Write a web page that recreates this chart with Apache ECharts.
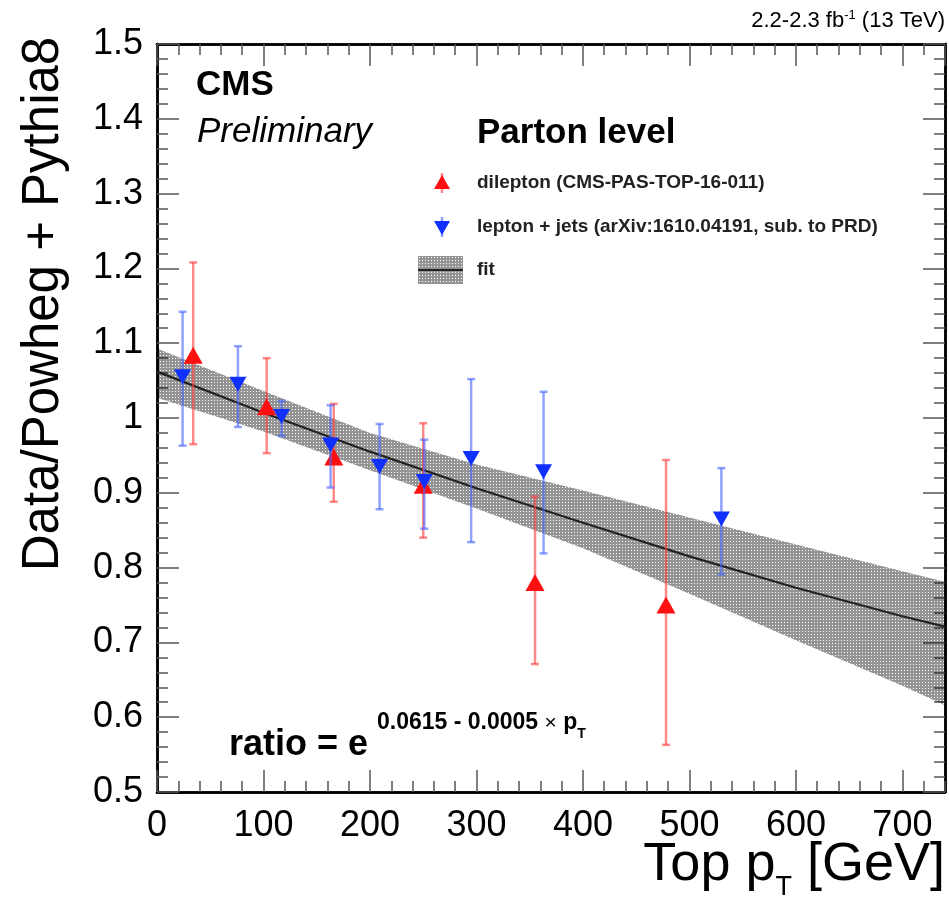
<!DOCTYPE html>
<html>
<head>
<meta charset="utf-8">
<script src="https://cdn.jsdelivr.net/npm/echarts@6/dist/echarts.min.js"></script>
<style>
html,body{margin:0;padding:0;background:#fff;}
#chart{width:949px;height:905px;}
</style>
</head>
<body>
<div id="chart"></div>
<script>
// ---- data ----
const dilepX  = [34, 103, 166, 250, 355, 478];
const dilepY  = [1.084, 1.015, 0.948, 0.910, 0.780, 0.750];
const dilepHi = [1.208, 1.080, 1.019, 0.993, 0.895, 0.944];
const dilepLo = [0.965, 0.953, 0.888, 0.840, 0.671, 0.563];

const ljX  = [24, 76, 117, 163, 209, 251, 295, 363, 530];
const ljY  = [1.055, 1.045, 1.002, 0.964, 0.935, 0.915, 0.946, 0.928, 0.865];
const ljHi = [1.142, 1.096, 1.023, 1.017, 0.992, 0.971, 1.052, 1.035, 0.933];
const ljLo = [0.963, 0.988, 0.976, 0.907, 0.878, 0.852, 0.834, 0.819, 0.791];

const fitX     = [0, 100, 200, 300, 400, 500, 600, 700, 740];
const fitMid   = [1.062, 1.007, 0.955, 0.906, 0.860, 0.815, 0.773, 0.735, 0.721];
const fitUpper = [1.093, 1.036, 0.980, 0.938, 0.903, 0.867, 0.831, 0.795, 0.781];
const fitLower = [1.027, 0.982, 0.930, 0.879, 0.826, 0.765, 0.703, 0.642, 0.616];

const xTicks = [0, 100, 200, 300, 400, 500, 600, 700];
const yTicks = [0.5, 0.6, 0.7, 0.8, 0.9, 1, 1.1, 1.2, 1.3, 1.4, 1.5];

// ---- build ----
const FONT = '"Liberation Sans", Arial, Helvetica, sans-serif';
const pc = document.createElement('canvas');
pc.width = 3; pc.height = 3;
const pctx = pc.getContext('2d');
pctx.fillStyle = 'rgba(0,0,0,0.42)';
pctx.fillRect(0, 0, 3, 3);
pctx.clearRect(1, 1, 1, 1);
const bandFill = {image: pc, repeat: 'repeat'};

const chart = echarts.init(document.getElementById('chart'), null, {renderer: 'canvas'});

function errRender(color) {
  return function (params, api) {
    const p1 = api.coord([api.value(0), api.value(2)]);
    const p2 = api.coord([api.value(0), api.value(1)]);
    const cw = 4;
    const st = {stroke: color, lineWidth: 2.5};
    return {type: 'group', children: [
      {type: 'line', shape: {x1: p1[0], y1: p1[1], x2: p2[0], y2: p2[1]}, style: st},
      {type: 'line', shape: {x1: p1[0]-cw, y1: p1[1], x2: p1[0]+cw, y2: p1[1]}, style: st},
      {type: 'line', shape: {x1: p2[0]-cw, y1: p2[1], x2: p2[0]+cw, y2: p2[1]}, style: st}
    ]};
  };
}

const bandData = fitX.map((x, i) => [x, fitLower[i], fitUpper[i]]);
const axisLabelStyle = {fontFamily: FONT, fontSize: 36, color: '#000'};
const tickStyle = {color: '#555', width: 1.5};
const frame = {show: true, onZero: false, lineStyle: {color: '#000', width: 2.5}};

function xAx(pos, major, labels) {
  return {type: 'value', min: 0, max: 740, interval: major ? 100 : 20, position: pos,
    axisLine: frame,
    axisTick: {show: true, inside: true, length: major ? 22 : 11, lineStyle: tickStyle},
    splitLine: {show: false},
    axisLabel: labels ? Object.assign({margin: 16, showMaxLabel: false,
      formatter: v => (xTicks.indexOf(v) >= 0 ? String(v) : '')}, axisLabelStyle) : {show: false}};
}
function yAx(pos, major, labels) {
  return {type: 'value', min: 0.5, max: 1.5, interval: major ? 0.1 : 0.02, position: pos,
    axisLine: frame,
    axisTick: {show: true, inside: true, length: major ? 22 : 11, lineStyle: tickStyle},
    splitLine: {show: false},
    axisLabel: labels ? Object.assign({margin: 14,
      formatter: v => { const t = yTicks.find(k => Math.abs(k - v) < 1e-6); return t === undefined ? '' : String(t); }}, axisLabelStyle) : {show: false}};
}

const option = {
  animation: false,
  backgroundColor: '#fff',
  grid: {left: 157, right: 4, top: 44, bottom: 113, containLabel: false},
  xAxis: [xAx('bottom', true, true), xAx('bottom', false, false), xAx('top', true, false), xAx('top', false, false)],
  yAxis: [yAx('left', true, true), yAx('left', false, false), yAx('right', true, false), yAx('right', false, false)],
  series: [
    {type: 'custom', name: 'fit band', xAxisIndex: 0, yAxisIndex: 0, z: 1,
     data: bandData, silent: true, clip: true,
     renderItem: function (params, api) {
       if (params.dataIndex !== 0) return null;
       const top = bandData.map(d => api.coord([d[0], d[2]]));
       const bot = bandData.map(d => api.coord([d[0], d[1]])).reverse();
       return {type: 'polygon', shape: {points: top.concat(bot)},
               style: {fill: bandFill, stroke: null}};
     }},
    {type: 'line', name: 'fit', data: fitX.map((x, i) => [x, fitMid[i]]),
     showSymbol: false, symbol: 'none', z: 2, smooth: false,
     lineStyle: {color: '#222', width: 2.2}},
    {type: 'custom', name: 'dilep err', z: 3,
     data: dilepX.map((x, i) => [x, dilepLo[i], dilepHi[i]]),
     renderItem: errRender('rgba(255,60,60,0.6)')},
    {type: 'scatter', name: 'dilepton', z: 4,
     data: dilepX.map((x, i) => [x, dilepY[i]]),
     symbol: 'triangle', symbolSize: [19, 17],
     itemStyle: {color: '#ff1010', opacity: 1}},
    {type: 'custom', name: 'lj err', z: 5,
     data: ljX.map((x, i) => [x, ljLo[i], ljHi[i]]),
     renderItem: errRender('rgba(70,100,255,0.6)')},
    {type: 'scatter', name: 'lepton + jets', z: 6,
     data: ljX.map((x, i) => [x, ljY[i]]),
     symbol: 'triangle', symbolRotate: 180, symbolSize: [17, 15],
     itemStyle: {color: '#1030ff', opacity: 1}}
  ],
  graphic: [
    {type: 'text', x: 44, y: 304, rotation: Math.PI / 2, z: 10,
     style: {text: 'Data/Powheg + Pythia8', font: '51px ' + FONT, fill: '#000',
             textAlign: 'center', textVerticalAlign: 'middle'}},
    {type: 'text', right: 4, top: 838, z: 10,
     style: {rich: {
       m: {fontFamily: FONT, fontSize: 54, fill: '#000', fontWeight: 'normal'},
       s: {fontFamily: FONT, fontSize: 27, fill: '#000', padding: [46, 0, 0, 0]}},
       text: '{m|Top p}{s|T}{m| [GeV]}'}},
    {type: 'text', right: 4, top: 9, z: 10,
     style: {rich: {
       m: {fontFamily: FONT, fontSize: 22, fill: '#000'},
       s: {fontFamily: FONT, fontSize: 13, fill: '#000', padding: [0, 0, 11, 0]}},
       text: '{m|2.2-2.3 fb}{s|-1}{m| (13 TeV)}'}},
    {type: 'text', x: 196, y: 68, z: 10,
     style: {text: 'CMS', font: 'bold 35px ' + FONT, fill: '#000'}},
    {type: 'text', x: 197, y: 115, z: 10,
     style: {text: 'Preliminary', font: 'italic 35px ' + FONT, fill: '#000'}},
    {type: 'text', x: 477, y: 116, z: 10,
     style: {text: 'Parton level', font: 'bold 35px ' + FONT, fill: '#000'}},
    {type: 'group', x: 442, y: 183, z: 10, children: [
      {type: 'line', shape: {x1: 0, y1: -10, x2: 0, y2: 10}, style: {stroke: 'rgba(255,60,60,0.6)', lineWidth: 2.5}},
      {type: 'polygon', shape: {points: [[-8, 6], [8, 6], [0, -8]]}, style: {fill: '#ff1010'}}
    ]},
    {type: 'text', x: 477, y: 183, z: 10,
     style: {text: 'dilepton (CMS-PAS-TOP-16-011)', font: 'bold 19px ' + FONT, fill: '#222', textVerticalAlign: 'middle'}},
    {type: 'group', x: 442, y: 227, z: 10, children: [
      {type: 'line', shape: {x1: 0, y1: -10, x2: 0, y2: 10}, style: {stroke: 'rgba(70,100,255,0.6)', lineWidth: 2.5}},
      {type: 'polygon', shape: {points: [[-8, -6], [8, -6], [0, 8]]}, style: {fill: '#1030ff'}}
    ]},
    {type: 'text', x: 477, y: 227, z: 10,
     style: {text: 'lepton + jets (arXiv:1610.04191, sub. to PRD)', font: 'bold 19px ' + FONT, fill: '#222', textVerticalAlign: 'middle'}},
    {type: 'group', x: 418, y: 256, z: 10, children: [
      {type: 'rect', shape: {x: 0, y: 0, width: 45, height: 28}, style: {fill: bandFill}},
      {type: 'line', shape: {x1: 0, y1: 14, x2: 45, y2: 14}, style: {stroke: '#222', lineWidth: 2}}
    ]},
    {type: 'text', x: 477, y: 270, z: 10,
     style: {text: 'fit', font: 'bold 19px ' + FONT, fill: '#222', textVerticalAlign: 'middle'}},
    {type: 'text', x: 229, y: 727, z: 10,
     style: {text: 'ratio = e', font: 'bold 36px ' + FONT, fill: '#000'}},
    {type: 'text', x: 377, y: 705, z: 10,
     style: {rich: {
       a: {fontFamily: FONT, fontSize: 23, fontWeight: 'bold', fill: '#000'},
       b: {fontFamily: FONT, fontSize: 21, fill: '#000'},
       s: {fontFamily: FONT, fontSize: 14, fontWeight: 'bold', fill: '#000', padding: [22, 0, 0, 0]}},
       text: '{a|0.0615 - 0.0005 }{b|×}{a| p}{s|T}'}}
  ]
};
chart.setOption(option);
</script>
</body>
</html>
